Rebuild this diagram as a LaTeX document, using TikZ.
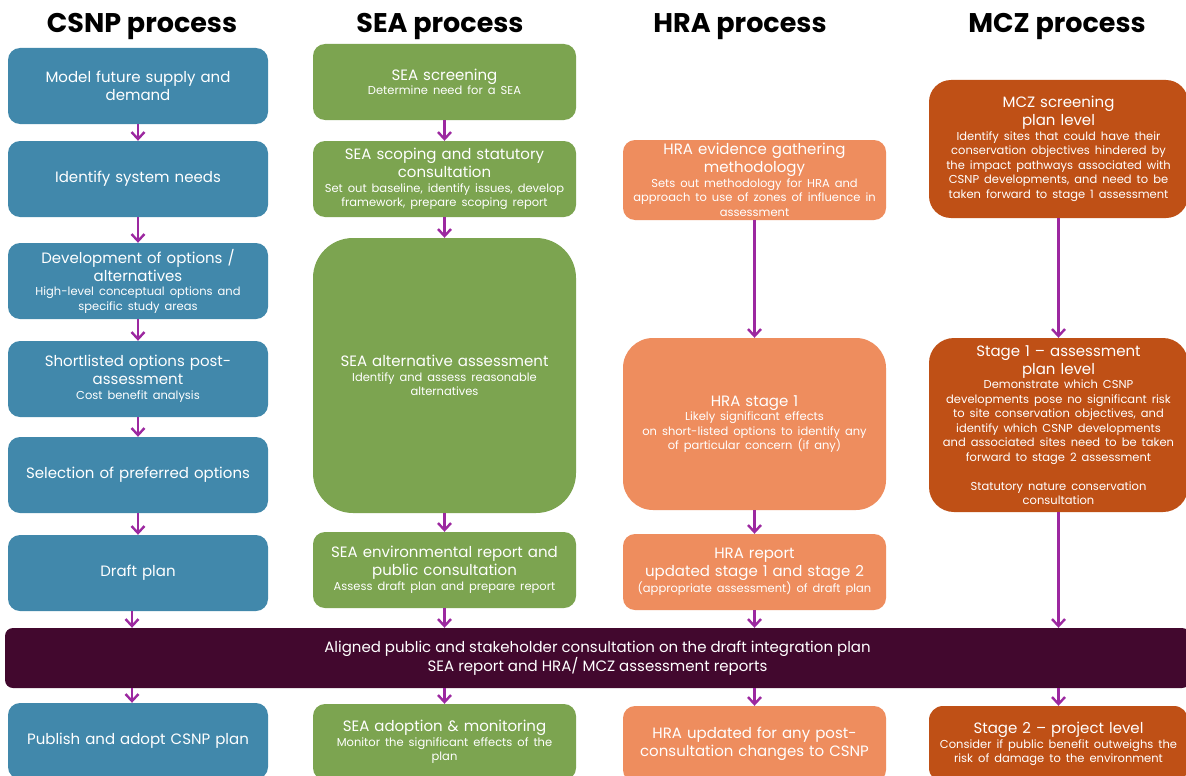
\documentclass[tikz,border=0pt]{standalone}
\usepackage{fontspec}
\setmainfont{Poppins}
\usetikzlibrary{arrows.meta}

\definecolor{csnpblue}{RGB}{65,136,171}
\definecolor{seagreen}{RGB}{124,164,80}
\definecolor{hraorange}{RGB}{238,141,94}
\definecolor{mczrust}{RGB}{191,80,22}
\definecolor{bandplum}{RGB}{66,8,46}
\definecolor{flowpurple}{RGB}{156,40,160}

\newcommand{\mainsz}{\fontsize{15}{18}\selectfont}
\newcommand{\subsz}{\fontsize{11.5}{14.5}\selectfont}
\newcommand{\subtxt}[1]{\par{\subsz #1\par}}

\begin{document}
\begin{tikzpicture}[x=1pt,y=-1pt,
    stage/.style={rounded corners=12pt,inner sep=2pt,align=center,text=white,font=\mainsz,minimum height=76pt},
    csnp/.style={stage,fill=csnpblue,text width=256pt},
    sea/.style={stage,fill=seagreen,text width=259pt},
    hra/.style={stage,fill=hraorange,text width=259pt},
    mcz/.style={stage,fill=mczrust,text width=255pt},
    band/.style={fill=bandplum,rounded corners=8pt,text=white,font=\mainsz,align=center,minimum width=1185pt,minimum height=60pt},
    heading/.style={font=\fontsize{27}{31}\selectfont\bfseries,anchor=base},
    flow/.style={flowpurple,line width=2.4pt,-{Straight Barb[length=7pt,width=13pt]}}]
            \path[use as bounding box,clip] (0,0) rectangle (1186,776);
            \fill[white] (0,0) rectangle (1186,776);

            \node[heading] (tcsnp) at (142,33) {CSNP process};
            \node[heading] (tsea) at (440,33) {SEA process};
            \node[heading] (thra) at (740,33) {HRA process};
            \node[heading] (tmcz) at (1057,33) {MCZ process};

            \node[csnp] (c1) at (138,86) {Model future supply and\\demand};
            \node[csnp] (c2) at (138,179) {Identify system needs};
            \node[csnp] (c3) at (138,281) {Development of options /\\alternatives\subtxt{High-level conceptual options and\\specific study areas}};
            \node[csnp] (c4) at (138,379) {Shortlisted options post-\\assessment\subtxt{Cost benefit analysis}};
            \node[csnp] (c5) at (138,475) {Selection of preferred options};
            \node[csnp] (c6) at (138,573) {Draft plan};
            \node[csnp] (c7) at (138,741) {Publish and adopt CSNP plan};

            \node[sea] (s1) at (444.5,82) {SEA screening\subtxt{Determine need for a SEA}};
            \node[sea] (s2) at (444.5,179) {SEA scoping and statutory\\consultation\subtxt{Set out baseline, identify issues, develop\\framework, prepare scoping report}};
            \node[sea,minimum height=275pt,rounded corners=40pt] (s3) at (444.5,375.5) {SEA alternative assessment\subtxt{Identify and assess reasonable\\alternatives}};
            \node[sea] (s4) at (444.5,570) {SEA environmental report and\\public consultation\subtxt{Assess draft plan and prepare report}};
            \node[sea] (s5) at (444.5,742) {SEA adoption \& monitoring\subtxt{Monitor the significant effects of the\\plan}};

            \node[hra,minimum height=80pt] (h1) at (754.5,180) {HRA evidence gathering\\methodology\subtxt{Sets out methodology for HRA and\\approach to use of zones of influence in\\assessment}};
            \node[hra,minimum height=172pt,rounded corners=30pt] (h2) at (754.5,424) {HRA stage 1\subtxt{Likely significant effects\\on short-listed options to identify any\\of particular concern (if any)}};
            \node[hra] (h3) at (754.5,572) {HRA report\\updated stage 1 and stage 2\subtxt{(appropriate assessment) of draft plan}};
            \node[hra] (h4) at (754.5,744) {HRA updated for any post-\\consultation changes to CSNP};

            \node[mcz,minimum height=138pt,rounded corners=22pt] (m1) at (1058.5,149) {MCZ screening\\plan level\subtxt{Identify sites that could have their\\conservation objectives hindered by\\the impact pathways associated with\\CSNP developments, and need to be\\taken forward to stage 1 assessment}};
            \node[mcz,minimum height=174pt,rounded corners=25pt] (m2) at (1058.5,425) {Stage 1 – assessment\\plan level\subtxt{Demonstrate which CSNP\\developments pose no significant risk\\to site conservation objectives, and\\identify which CSNP developments\\and associated sites need to be taken\\forward to stage 2 assessment\\[14.5pt]Statutory nature conservation\\consultation}};
            \node[mcz,rounded corners=14pt] (m3) at (1058.5,744) {Stage 2 – project level\subtxt{Consider if public benefit outweighs the\\risk of damage to the environment}};

            \node[band] (band) at (597.5,658) {Aligned public and stakeholder consultation on the draft integration plan\\SEA report and HRA/ MCZ assessment reports};

            \foreach \a/\b in {c1/c2,c2/c3,c3/c4,c4/c5,c5/c6,s1/s2,s2/s3,s3/s4,h1/h2,h2/h3,m1/m2}
                \draw[flow] (\a) -- (\b);
            \draw[flow] ([xshift=-6pt]c6.south) -- ([xshift=-6pt]c6.south |- band.north);
            \draw[flow] ([xshift=-6pt]c7.north |- band.south) -- ([xshift=-6pt]c7.north);
            \foreach \a/\b in {s4/s5,h3/h4,m2/m3}{
                \draw[flow] (\a) -- (\a |- band.north);
                \draw[flow] (\b |- band.south) -- (\b);
            }
        \end{tikzpicture}
\end{document}
